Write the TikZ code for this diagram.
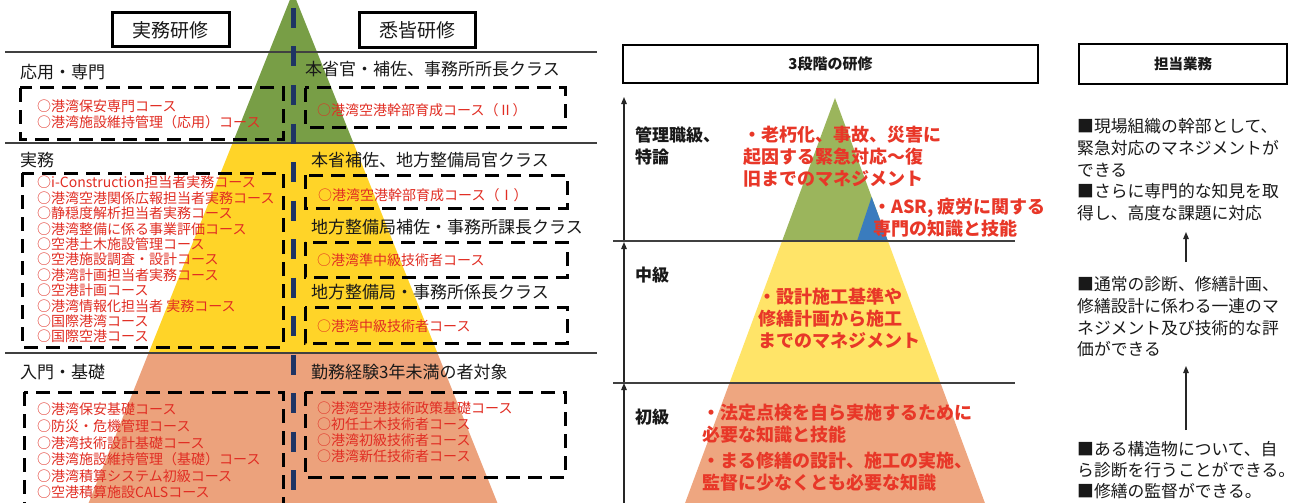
\documentclass[tikz,border=0pt]{standalone}
\usepackage{fontspec}
\setmainfont{Noto Sans CJK JP}
\usetikzlibrary{arrows.meta}
\definecolor{lgreen}{RGB}{120,158,70}
\definecolor{lyellow}{RGB}{255,212,40}
\definecolor{lorange}{RGB}{236,162,124}
\definecolor{mgreen}{RGB}{155,181,92}
\definecolor{myellow}{RGB}{255,228,104}
\definecolor{morange}{RGB}{238,166,128}
\definecolor{mblue}{RGB}{58,124,190}
\definecolor{navy}{RGB}{30,52,100}
\definecolor{crsred}{RGB}{225,45,35}
\definecolor{bred}{RGB}{232,55,40}
\definecolor{ink}{RGB}{25,25,25}
\begin{document}
\begin{tikzpicture}[x=1pt,y=-1pt,
  lvl/.style={anchor=west,inner sep=0,text=ink,font=\fontsize{17}{20}\selectfont},
  course/.style={anchor=north west,inner sep=0,align=left,text=crsred,font=\fontsize{14}{15.4}\selectfont},
  dbox/.style={draw=black,line width=3pt,dash pattern=on 14pt off 8pt},
  hline/.style={draw=black!75,line width=1.2pt},
  tbox/.style={draw=black,line width=3pt,inner sep=0,text=ink,font=\fontsize{19}{22}\selectfont},
  tbox2/.style={draw=black,line width=2.5pt,inner sep=0,text=ink,font=\fontsize{15}{18}\selectfont\bfseries},
  mlab/.style={anchor=north west,inner sep=0,align=left,text=ink,font=\fontsize{17}{22}\selectfont\bfseries},
  rtext/.style={anchor=north west,inner sep=0,align=left,text=bred,font=\fontsize{18}{22}\selectfont\bfseries},
  rblk/.style={anchor=north west,inner sep=0,align=left,text=ink,font=\fontsize{16.8}{21.7}\selectfont},
  arr/.style={draw=black!85,line width=1.2pt,-{Triangle[length=7pt,width=5.5pt]}}
]
\useasboundingbox (0,0) rectangle (1302,503);
\clip (0,0) rectangle (1302,503);
\fill[white] (0,0) rectangle (1302,503);

% ---------- left pyramid ----------
\fill[lgreen] (293,-8) -- (353.4,143) -- (232.6,143) -- cycle;
\fill[lyellow] (232.6,143) -- (353.4,143) -- (437.4,353) -- (148.6,353) -- cycle;
\fill[lorange] (148.6,353) -- (437.4,353) -- (501.4,513) -- (84.6,513) -- cycle;

% horizontal separators
\draw[hline] (5,52) -- (597,52);
\draw[hline] (5,143) -- (597,143);
\draw[hline] (5,353) -- (597,353);

% title boxes
\node[tbox,minimum width=117pt,minimum height=34pt] (jt) at (170.5,30) {実務研修};
\node[tbox,minimum width=116pt,minimum height=35pt] (st) at (417,30.5) {悉皆研修};

% dashed boxes left
\draw[dbox] (20,88) rectangle (283,139);
\draw[dbox] (22,173) rectangle (283,347);
\draw[dbox] (24,392) rectangle (283,520);
% dashed boxes right
\draw[dbox] (305,88) rectangle (565,127);
\draw[dbox] (305,175) rectangle (567,208);
\draw[dbox] (305,242) rectangle (567,277);
\draw[dbox] (305,307) rectangle (567,343);
\draw[dbox] (305,392) rectangle (565,477);

% headings
\node[lvl] (h1) at (20,72) {応用・専門};
\node[lvl] (h2) at (20,160) {実務};
\node[lvl] (h3) at (20,372) {入門・基礎};
\node[lvl] (r1) at (305,69) {本省官・補佐、事務所所長クラス};
\node[lvl] (r2) at (311,160) {本省補佐、地方整備局官クラス};
\node[lvl] (r3) at (311,227) {地方整備局補佐・事務所課長クラス};
\node[lvl] (r4) at (311,292) {地方整備局・事務所係長クラス};
\node[lvl] (r5) at (311,372) {勤務経験3年未満の者対象};

% course lists
\node[course] (c1) at (37,100) {○港湾保安専門コース\\○港湾施設維持管理（応用）コース};
\node[course] (c2) at (37,176) {○i-Construction担当者実務コース\\○港湾空港関係広報担当者実務コース\\○静穏度解析担当者実務コース\\○港湾整備に係る事業評価コース\\○空港土木施設管理コース\\○空港施設調査・設計コース\\○港湾計画担当者実務コース\\○空港計画コース\\○港湾情報化担当者 実務コース\\○国際港湾コース\\○国際空港コース};
\node[course,font=\fontsize{14}{16.6}\selectfont] (c3) at (37,403) {○港湾保安基礎コース\\○防災・危機管理コース\\○港湾技術設計基礎コース\\○港湾施設維持管理（基礎）コース\\○港湾積算システム初級コース\\○空港積算施設CALSコース};
\node[course] (c4) at (317,103) {○港湾空港幹部育成コース（Ⅱ）};
\node[course] (c5) at (318,188) {○港湾空港幹部育成コース（Ⅰ）};
\node[course] (c6) at (317,253) {○港湾準中級技術者コース};
\node[course] (c7) at (317,320) {○港湾中級技術者コース};
\node[course,font=\fontsize{14}{16.3}\selectfont] (c8) at (317,401) {○港湾空港技術政策基礎コース\\○初任土木技術者コース\\○港湾初級技術者コース\\○港湾新任技術者コース};

% centre dashed axis
\draw[navy,line width=5pt,dash pattern=on 20pt off 18.5pt] (293,8) -- (293,503);

% ---------- middle panel ----------
\fill[mgreen] (835,98) -- (887.9,241) -- (782.1,241) -- cycle;
\fill[mblue] (871.6,197) -- (887.9,241) -- (857,241) -- cycle;
\fill[myellow] (782.1,241) -- (887.9,241) -- (940.5,383) -- (729.5,383) -- cycle;
\fill[morange] (729.5,383) -- (940.5,383) -- (988.6,513) -- (681.4,513) -- cycle;

\draw[hline] (613,241) -- (1015,241);
\draw[hline] (613,383) -- (1015,383);

\node[tbox2,minimum width=415pt,minimum height=38pt] (m0) at (830.5,64) {3段階の研修};

\coordinate (a1s) at (624,240);
\coordinate (a1e) at (624,97);
\coordinate (a2s) at (624,382);
\coordinate (a2e) at (624,242);
\coordinate (a3s) at (624,510);
\coordinate (a3e) at (624,383);
\draw[arr] (a1s) -- (a1e);
\draw[arr] (a2s) -- (a2e);
\draw[arr] (a3s) -- (a3e);

\node[mlab] (m1) at (635,126.5) {管理職級、\\特論};
\node[mlab] (m2) at (635,266.5) {中級};
\node[mlab] (m3) at (635,408.5) {初級};

\node[rtext] (b1) at (743,126) {・老朽化、事故、災害に\\起因する緊急対応～復\\旧までのマネジメント};
\node[rtext] (b2) at (873,198) {・ASR, 疲労に関する\\専門の知識と技能};
\node[rtext] (b3) at (758,288) {・設計施工基準や\\修繕計画から施工\\までのマネジメント};
\node[rtext,font=\fontsize{18}{21.5}\selectfont\bfseries] (b4) at (702,404) {・法定点検を自ら実施するために\\必要な知識と技能\\[5pt]・まる修繕の設計、施工の実施、\\監督に少なくとも必要な知識};

% ---------- right panel ----------
\node[tbox2,font=\fontsize{14.5}{18}\selectfont\bfseries,minimum width=208pt,minimum height=40pt] (n0) at (1183,64) {担当業務};
\node[rblk] (t1) at (1077,118.5) {■現場組織の幹部として、\\緊急対応のマネジメントが\\できる\\■さらに専門的な知見を取\\得し、高度な課題に対応};
\node[rblk] (t2) at (1077,276.5) {■通常の診断、修繕計画、\\修繕設計に係わる一連のマ\\ネジメント及び技術的な評\\価ができる};
\node[rblk,font=\fontsize{16.8}{21}\selectfont] (t3) at (1077,441.5) {■ある構造物について、自\\ら診断を行うことができる。\\■修繕の監督ができる。};

\coordinate (u1s) at (1186,262);
\coordinate (u1e) at (1186,232);
\coordinate (u2s) at (1186,430);
\coordinate (u2e) at (1186,366);
\draw[arr] (u1s) -- (u1e);
\draw[arr] (u2s) -- (u2e);
\end{tikzpicture}
\end{document}
